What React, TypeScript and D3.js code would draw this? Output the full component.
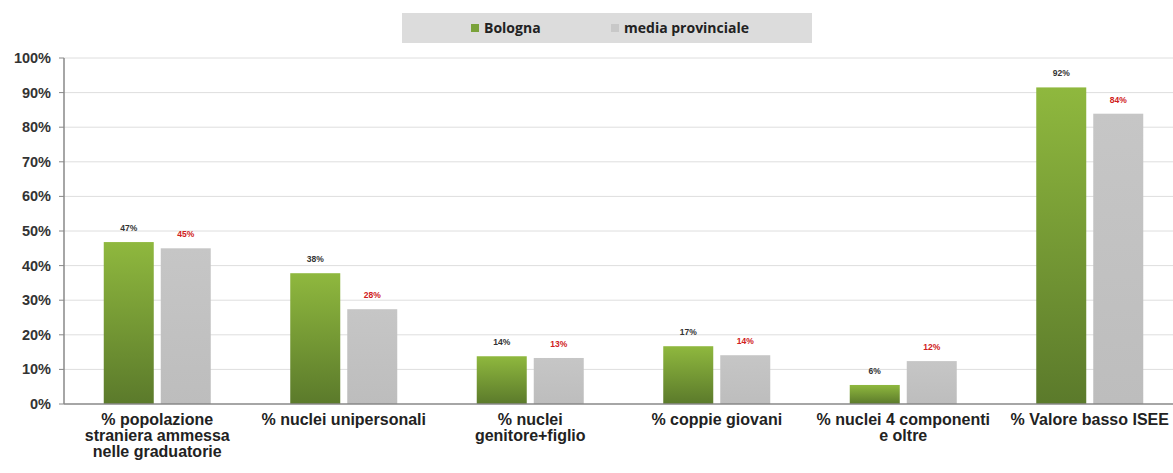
import React from "react";
import * as d3 from "d3";

const categories = [
  ["% popolazione", "straniera ammessa", "nelle graduatorie"],
  ["% nuclei unipersonali"],
  ["% nuclei", "genitore+figlio"],
  ["% coppie giovani"],
  ["% nuclei 4 componenti", "e oltre"],
  ["% Valore basso ISEE"],
];
const bologna = [46.8, 37.8, 13.8, 16.7, 5.5, 91.5];
const bolognaLabels = ["47%", "38%", "14%", "17%", "6%", "92%"];
const media = [45.0, 27.4, 13.3, 14.1, 12.4, 83.9];
const mediaLabels = ["45%", "28%", "13%", "14%", "12%", "84%"];
const yTicks = [0, 10, 20, 30, 40, 50, 60, 70, 80, 90, 100];

export default function App() {
  const W = 1173, H = 473;
  const left = 64, right = 1183, top = 58, bottom = 404;
  const x = d3.scaleBand<number>().domain(d3.range(categories.length)).range([left, right]);
  const y = d3.scaleLinear().domain([0, 100]).range([bottom, top]);
  const bw = 50, gap = 7;
  const font = "'Liberation Sans', Arial, sans-serif";
  return (
    <svg width={W} height={H} style={{ position: "absolute", left: 0, top: 0, background: "#fff" }}>
      <defs>
        <linearGradient id="gG" x1="0" y1="0" x2="0" y2="1">
          <stop offset="0" stopColor="#8fb83e" />
          <stop offset="1" stopColor="#5b7a2b" />
        </linearGradient>
        <linearGradient id="gR" x1="0" y1="0" x2="0" y2="1">
          <stop offset="0" stopColor="#c6c6c6" />
          <stop offset="1" stopColor="#bdbdbd" />
        </linearGradient>
      </defs>
      {/* legend */}
      <rect x={402} y={13} width={410} height={30} fill="#dcdcdc" />
      <rect x={471} y={24} width={8} height={8} fill="#7aa23a" />
      <text x={484} y={33} fontFamily="'Open Sans', sans-serif" fontWeight="bold" fontSize={14} fill="#222">Bologna</text>
      <rect x={611} y={24} width={8} height={8} fill="#c8c8c8" />
      <text x={624} y={33} fontFamily="'Open Sans', sans-serif" fontWeight="bold" fontSize={14} fill="#222">media provinciale</text>
      {/* grid */}
      {yTicks.map((t) => (
        <g key={t}>
          {t > 0 && <line x1={left} x2={W} y1={y(t)} y2={y(t)} stroke="#dedede" strokeWidth={1} />}
          <line x1={left - 5} x2={left} y1={y(t)} y2={y(t)} stroke="#888" strokeWidth={1} />
          <text x={51} y={y(t) + 5} textAnchor="end" fontFamily={font} fontWeight="bold" fontSize={14.5} fill="#333">{t}%</text>
        </g>
      ))}
      {/* bars */}
      {categories.map((c, i) => {
        const cx = (x(i) as number) + x.bandwidth() / 2;
        const gx = cx - gap / 2 - bw;
        const rx = cx + gap / 2;
        return (
          <g key={i}>
            <rect x={gx} y={y(bologna[i])} width={bw} height={bottom - y(bologna[i])} fill="url(#gG)" />
            <rect x={rx} y={y(media[i])} width={bw} height={bottom - y(media[i])} fill="url(#gR)" />
            <text x={gx + bw / 2} y={y(bologna[i]) - 11} textAnchor="middle" fontFamily={font} fontWeight="bold" fontSize={8.5} fill="#333">{bolognaLabels[i]}</text>
            <text x={rx + bw / 2} y={y(media[i]) - 11} textAnchor="middle" fontFamily={font} fontWeight="bold" fontSize={8.5} fill="#d02020">{mediaLabels[i]}</text>
            {c.map((line, j) => (
              <text key={j} x={cx} y={425 + j * 16} textAnchor="middle" fontFamily={font} fontWeight="bold" fontSize={16} fill="#222">{line}</text>
            ))}
          </g>
        );
      })}
      {/* axes */}
      <line x1={left} x2={left} y1={top} y2={bottom} stroke="#888" strokeWidth={1.5} />
      <line x1={left} x2={W} y1={bottom} y2={bottom} stroke="#888" strokeWidth={1.5} />
    </svg>
  );
}
